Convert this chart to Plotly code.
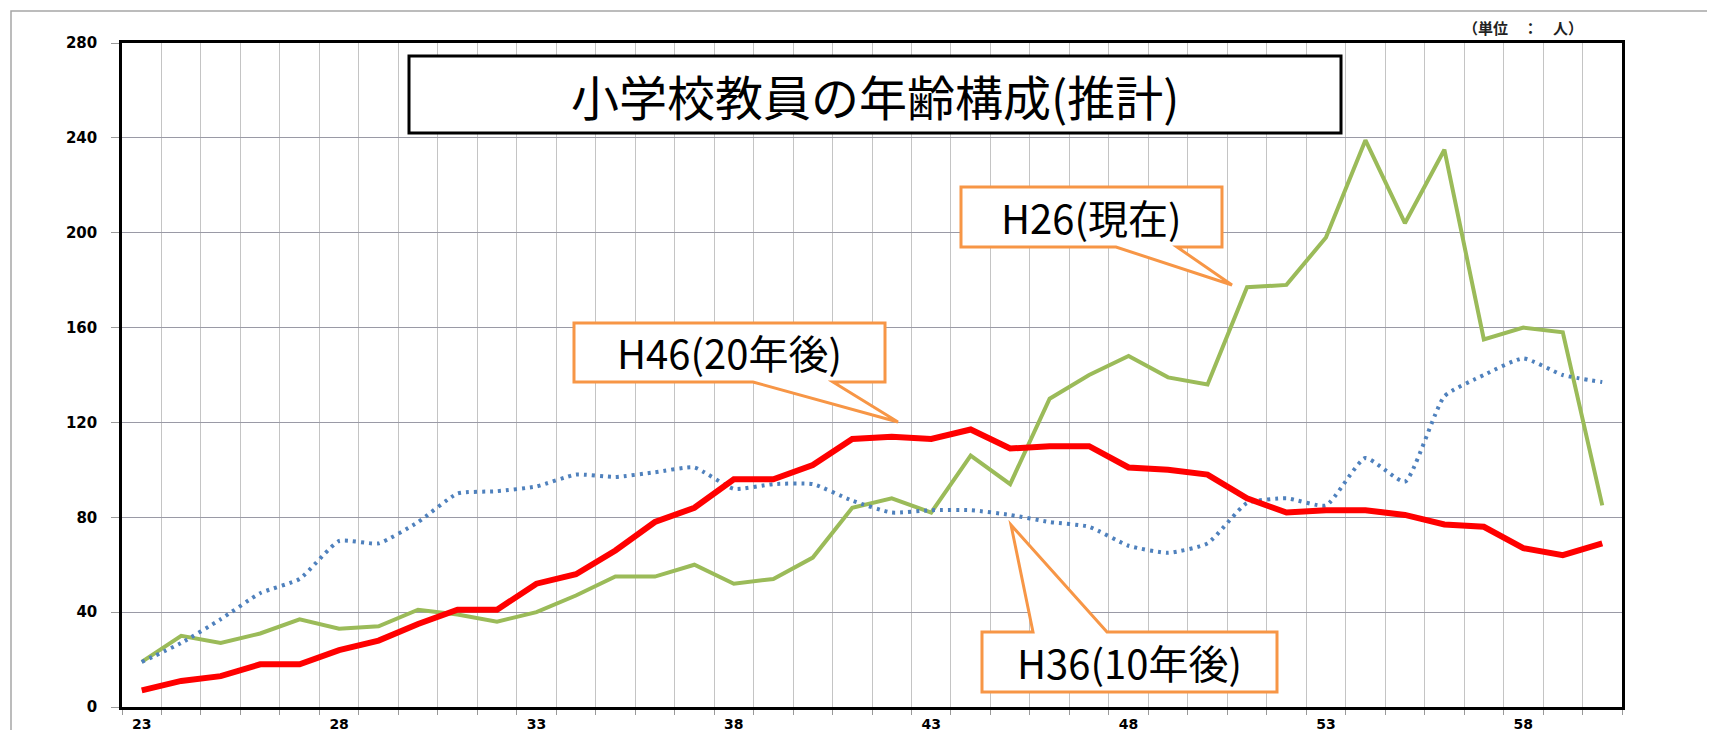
import plotly.graph_objects as go

# ages on the x axis and teacher counts per age
ages = list(range(23, 61))
label_ages = [23, 28, 33, 38, 43, 48, 53, 58]

h26_now = [19, 30, 27, 31, 37, 33, 34, 41, 39, 36,
           40, 47, 55, 55, 60, 52, 54, 63, 84, 88,
           82, 106, 94, 130, 140, 148, 139, 136, 177, 178,
           198, 239, 204, 235, 155, 160, 158, 85]
h36_10y = [19, 27, 37, 48, 54, 70, 69, 78, 90, 91,
           93, 98, 97, 99, 101, 92, 94, 94, 87, 82,
           83, 83, 81, 78, 76, 68, 65, 69, 86, 88,
           85, 105, 95, 131, 140, 147, 140, 137]
h46_20y = [7, 11, 13, 18, 18, 24, 28, 35, 41, 41,
           52, 56, 66, 78, 84, 96, 96, 102, 113, 114,
           113, 117, 109, 110, 110, 101, 100, 98, 88, 82,
           83, 83, 81, 77, 76, 67, 64, 69]

title_text = "小学校教員の年齢構成(推計)"
unit_text = "（単位　：　人）"
callouts = ["H26(現在)", "H46(20年後)", "H36(10年後)"]

W, H = 1715, 730
OFF = 8                            # page body margin of the html
L, R, T, B = 122, 1622, 43, 707    # plot area in screen pixels
ORANGE = "#F79646"


def px(x):
    return (x - L) / (R - L)


def py(y):
    return (B - y) / (B - T)


def path(points):
    s = "M " + " L ".join(f"{px(x):.5f},{py(y):.5f}" for x, y in points)
    return s + " Z"


fig = go.Figure()

fig.add_trace(go.Scatter(x=ages, y=h26_now, mode="lines", name="H26",
                         line=dict(color="#9BBB59", width=4)))
fig.add_trace(go.Scatter(x=ages, y=h36_10y, mode="lines", name="H36",
                         line=dict(color="#4F81BD", width=4, dash="3px,5px",
                                   shape="spline", smoothing=0.5)))
fig.add_trace(go.Scatter(x=ages, y=h46_20y, mode="lines", name="H46",
                         line=dict(color="#FF0000", width=6)))

shapes = []
# outer frame of the picture
shapes.append(dict(type="rect", xref="paper", yref="paper",
                   x0=px(11), x1=px(1713), y0=py(740), y1=py(11),
                   line=dict(color="#A6A6A6", width=1.5), layer="below"))
# pasted patch hides part of the 40 gridline
shapes.append(dict(type="line", xref="paper", yref="paper",
                   x0=px(979), x1=px(1279), y0=py(612), y1=py(612),
                   line=dict(color="white", width=3), layer="between"))
# title box
shapes.append(dict(type="rect", xref="paper", yref="paper",
                   x0=px(409), x1=px(1341), y0=py(133), y1=py(56),
                   line=dict(color="black", width=3), fillcolor="white"))
# speech-bubble callouts
bubbles = [
    [(961, 187), (1222, 187), (1222, 247), (1177, 247), (1232, 285), (1116, 247), (961, 247)],
    [(574, 323), (885, 323), (885, 382), (833, 382), (898, 422), (753, 382), (574, 382)],
    [(982, 632), (1033, 632), (1011, 525), (1107, 632), (1277, 632), (1277, 692), (982, 692)],
]
for pts in bubbles:
    shapes.append(dict(type="path", xref="paper", yref="paper", path=path(pts),
                       line=dict(color=ORANGE, width=3), fillcolor="white"))

annotations = [
    dict(text=title_text, x=px(875), y=py(95), xref="paper", yref="paper",
         xanchor="center", yanchor="middle", showarrow=False,
         font=dict(family="Noto Sans CJK JP", size=48, color="black")),
    dict(text=unit_text, x=px(1523), y=py(28), xref="paper", yref="paper",
         xanchor="center", yanchor="middle", showarrow=False,
         font=dict(family="Noto Sans CJK JP", size=15, color="#222222", weight="bold")),
]
centers = [(1091, 217), (729, 352), (1129, 662)]
for txt, (cx, cy) in zip(callouts, centers):
    annotations.append(dict(text=txt, x=px(cx), y=py(cy), xref="paper", yref="paper",
                            xanchor="center", yanchor="middle", showarrow=False,
                            font=dict(family="Noto Sans CJK JP", size=40, color="black")))

fig.update_layout(
    width=W, height=H,
    template="none",
    paper_bgcolor="white", plot_bgcolor="white",
    margin=dict(l=L - OFF, r=W - R + OFF, t=T - OFF, b=H - B + OFF, pad=0),
    showlegend=False,
    shapes=shapes,
    annotations=annotations,
    xaxis=dict(
        range=[22.5, 60.5], tickmode="array", tickvals=label_ages,
        ticktext=[str(a) for a in label_ages], ticks="", showgrid=False,
        tickfont=dict(family="DejaVu Sans", size=14, color="black", weight="bold"),
        ticklabelstandoff=2,
        minor=dict(tick0=22.5, dtick=1, showgrid=True, gridcolor="#C4C4C4",
                   gridwidth=1, ticks="outside", ticklen=5, tickcolor="#999999"),
        showline=True, linecolor="black", linewidth=2.5, mirror=True,
        zeroline=False, automargin=False, fixedrange=True,
    ),
    yaxis=dict(
        range=[0, 280], tickmode="array", tickvals=list(range(0, 281, 40)),
        showgrid=True, gridcolor="#9A9AA6", gridwidth=1,
        ticks="outside", ticklen=8, tickcolor="#999999",
        tickfont=dict(family="DejaVu Sans", size=15, color="black", weight="bold"),
        ticklabelstandoff=11,
        showline=True, linecolor="black", linewidth=2.5, mirror=True,
        zeroline=False, automargin=False, fixedrange=True,
    ),
)

fig.write_html("out.html")
